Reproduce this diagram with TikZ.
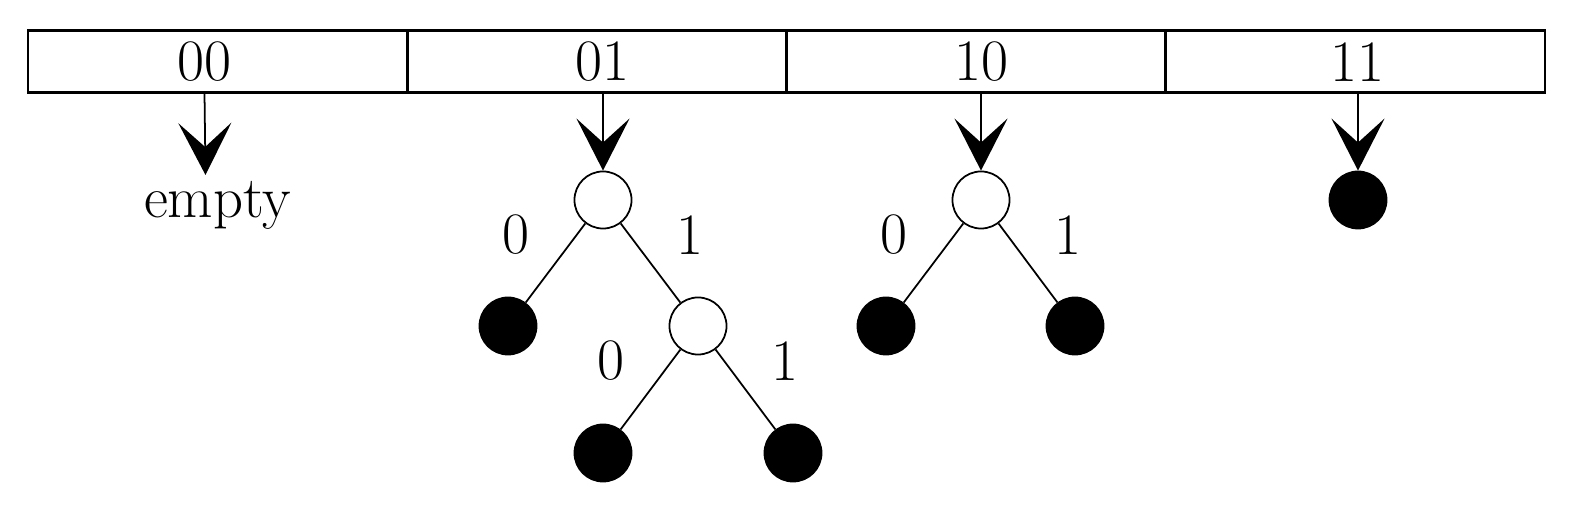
\documentclass[tikz,border=0pt]{standalone}
\usetikzlibrary{arrows.meta}
\begin{document}
\begin{tikzpicture}[x=0.01cm,y=-0.01cm,
  font=\fontsize{16.7}{20}\selectfont,
  cell/.style={draw,line width=0.6pt,minimum width=3.79cm,minimum height=0.62cm,inner sep=0pt,outer sep=0pt},
  lbl/.style={inner sep=0pt},
  inner/.style={circle,draw,fill=white,line width=0.5pt,minimum size=0.57cm,inner sep=0pt},
  leaf/.style={circle,draw,fill=black,line width=0.5pt,minimum size=0.57cm,inner sep=0pt},
  arr/.style={line width=0.5pt,-{Stealth[length=5.2mm,width=5.3mm,inset=2.4mm]}},
  edge/.style={line width=0.5pt}]
\useasboundingbox (0,0) rectangle (1572,507);
% bucket array
\node[cell] (c00) at (218,61.5) {};
\node[cell] (c01) at (597,61.5) {};
\node[cell] (c10) at (976,61.5) {};
\node[cell] (c11) at (1355,61.5) {};
\node[lbl] (t00) at (204.5,62) {00};
\node[lbl] (t01) at (602.5,62) {01};
\node[lbl] (t10) at (981.5,62) {10};
\node[lbl] (t11) at (1357.5,62) {11};
% 00 -> empty
\coordinate (e0) at (205.5,175);
\node[lbl,anchor=base] (empty) at (217.5,218) {empty};
\draw[arr] (t00 |- c00.south) -- (e0);
% 01 tree
\node[inner] (r01) at (603,200) {};
\node[leaf]  (a01) at (508,326) {};
\node[inner] (b01) at (698,326) {};
\node[leaf]  (c01l) at (603,453) {};
\node[leaf]  (d01) at (793,453) {};
\draw[arr] (r01 |- c01.south) -- (r01.north);
\draw[edge] (r01) -- (a01);
\draw[edge] (r01) -- (b01);
\draw[edge] (b01) -- (c01l);
\draw[edge] (b01) -- (d01);
\node[lbl] (z1) at (516,235) {0};
\node[lbl] (o1) at (690,235) {1};
\node[lbl] (z2) at (611,361) {0};
\node[lbl] (o2) at (785,361) {1};
% 10 tree
\node[inner] (r10) at (981,200) {};
\node[leaf]  (a10) at (886,326) {};
\node[leaf]  (b10) at (1075,326) {};
\draw[arr] (r10 |- c10.south) -- (r10.north);
\draw[edge] (r10) -- (a10);
\draw[edge] (r10) -- (b10);
\node[lbl] (z3) at (894,235) {0};
\node[lbl] (o3) at (1068,235) {1};
% 11 leaf
\node[leaf] (r11) at (1358,200) {};
\draw[arr] (r11 |- c11.south) -- (r11.north);
\end{tikzpicture}
\end{document}
